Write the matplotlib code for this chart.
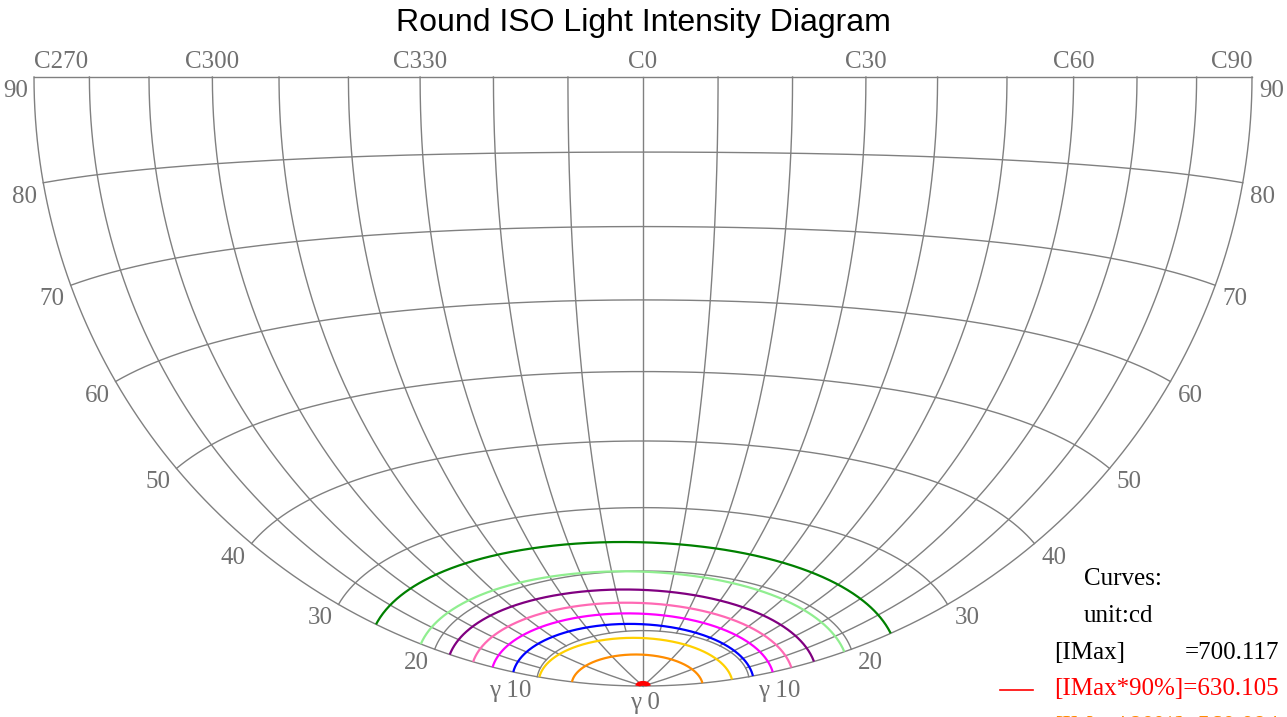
import numpy as np
import matplotlib
matplotlib.use("Agg")
import matplotlib.pyplot as plt

# ---------------- data ----------------
title = "Round ISO Light Intensity Diagram"
imax = 700.117
c_tick_labels = ["C270", "C300", "C330", "C0", "C30", "C60", "C90"]
c_tick_angles = [-90, -60, -30, 0, 30, 60, 90]
gamma_rings = [10, 20, 30, 40, 50, 60, 70, 80, 90]
meridians = list(range(-90, 91, 10))

# iso-intensity curves: gamma (deg) read at C = 270,300,330,0,30,60,90
curve_c = [-90, -60, -30, 0, 30, 60, 90]
curve_pct = [90, 80, 70, 60, 50, 40, 30, 20, 10]
curve_colors = ["#ff0000", "#ff8c00", "#ffd000", "#0000ff", "#ff00ff",
                "#ff69b4", "#800080", "#90ee90", "#008000"]
curve_gamma = [
    [0.5, 0.5, 0.5, 0.5, 0.5, 0.5, 0.5],
    [6.7, 6.43, 6.08, 5.75, 5.53, 5.47, 5.6],
    [9.8, 9.51, 9.10, 8.7, 8.40, 8.29, 8.4],
    [12.3, 12.05, 11.61, 11.1, 10.66, 10.40, 10.4],
    [14.3, 13.97, 13.45, 12.9, 12.45, 12.23, 12.3],
    [16.2, 15.83, 15.29, 14.7, 14.24, 14.02, 14.1],
    [18.5, 18.10, 17.52, 16.9, 16.42, 16.20, 16.3],
    [21.4, 21.03, 20.49, 19.9, 19.41, 19.22, 19.3],
    [26.0, 25.67, 25.15, 24.6, 24.15, 23.93, 24.0],
]

# ---------------- projection (Lambert azimuthal equal-area, centred on C0/gamma90) ----------------
CX, CY, R = 643.0, 77.0, 609.0


def proj(g, c):
    g = np.radians(np.asarray(g, float))
    c = np.radians(np.asarray(c, float))
    k = np.sqrt(1.0 + np.sin(g) * np.cos(c))
    x = CX + R * np.sin(g) * np.sin(c) / k
    y = CY + R * np.cos(g) / k
    return x, y


fig = plt.figure(figsize=(12.87, 7.17), dpi=100)
ax = fig.add_axes([0, 0, 1, 1])
ax.set_xlim(0, 1287)
ax.set_ylim(717, 0)
ax.axis("off")

grid_col = "#808080"
lab_col = "#707070"
serif = ["Liberation Serif", "DejaVu Serif"]

# gamma rings
cc = np.linspace(-90, 90, 721)
for g in gamma_rings:
    x, y = proj(np.full_like(cc, g), cc)
    ax.plot(x, y, color=grid_col, lw=1.0, zorder=1)

# meridians (only every 30 deg reaches the centre)
for c in meridians:
    g_start = 0 if c % 30 == 0 else 10
    gg = np.linspace(g_start, 90, 361)
    x, y = proj(gg, np.full_like(gg, c))
    ax.plot(x, y, color=grid_col, lw=1.0, zorder=1)

# C labels
for lab, c in zip(c_tick_labels, c_tick_angles):
    x, y = proj(90, c)
    ha = "center"
    if c == -90:
        ha = "left"
    elif c == 90:
        ha = "right"
    ax.text(x, 62, lab, ha=ha, va="center", fontsize=18, color=lab_col, family=serif)

# gamma labels on both sides
for g in gamma_rings:
    txt = "\u03b3 %d" % g if g == 10 else "%d" % g
    xr, yr = proj(g, 90)
    ax.text(xr + 9 if g == 10 else xr + 7, yr + 14, txt, ha="left", va="center",
            fontsize=18, color=lab_col, family=serif)
    xl, yl = proj(g, -90)
    ax.text(xl - 6, yl + 14, txt, ha="right", va="center", fontsize=18, color=lab_col, family=serif)
x0, y0 = proj(0, 0)
ax.text(x0 + 2, y0 + 17, "\u03b3 0", ha="center", va="center", fontsize=18, color=lab_col, family=serif)

# iso curves
cfine = np.linspace(-90, 90, 361)
for gvals, col in zip(curve_gamma, curve_colors):
    coef = np.polyfit(np.radians(curve_c), gvals, 4)
    gf = np.polyval(coef, np.radians(cfine))
    x, y = proj(gf, cfine)
    ax.plot(x, y, color=col, lw=1.6 if col != "#ff0000" else 3.5, zorder=3,
            solid_capstyle="butt")

# title
ax.text(643, 23, title, ha="center", va="center", fontsize=23,
        family=["Liberation Sans", "DejaVu Sans"], color="black")

# legend (clipped by the right/bottom edge like the original)
lx, vx = 1054, 1185
ax.text(1084, 579, "Curves:", ha="left", va="center", fontsize=18, color="black", family=serif)
ax.text(1084, 616, "unit:cd", ha="left", va="center", fontsize=18, color="black", family=serif)
ax.text(lx, 653, "[IMax]", ha="left", va="center", fontsize=18, color="black", family=serif)
ax.text(vx, 653, "=%.3f" % imax, ha="left", va="center", fontsize=18, color="black", family=serif)
rows_y = [689, 727]
for p, col, yy in zip(curve_pct[:2], curve_colors[:2], rows_y):
    ax.plot([1000, 1033], [yy + 1, yy + 1], color=col, lw=1.2)
    ax.text(lx, yy, "[IMax*%d%%]=%.3f" % (p, imax * p / 100.0), ha="left", va="center",
            fontsize=18, color=col, family=serif)

fig.savefig("out.png", dpi=100)
